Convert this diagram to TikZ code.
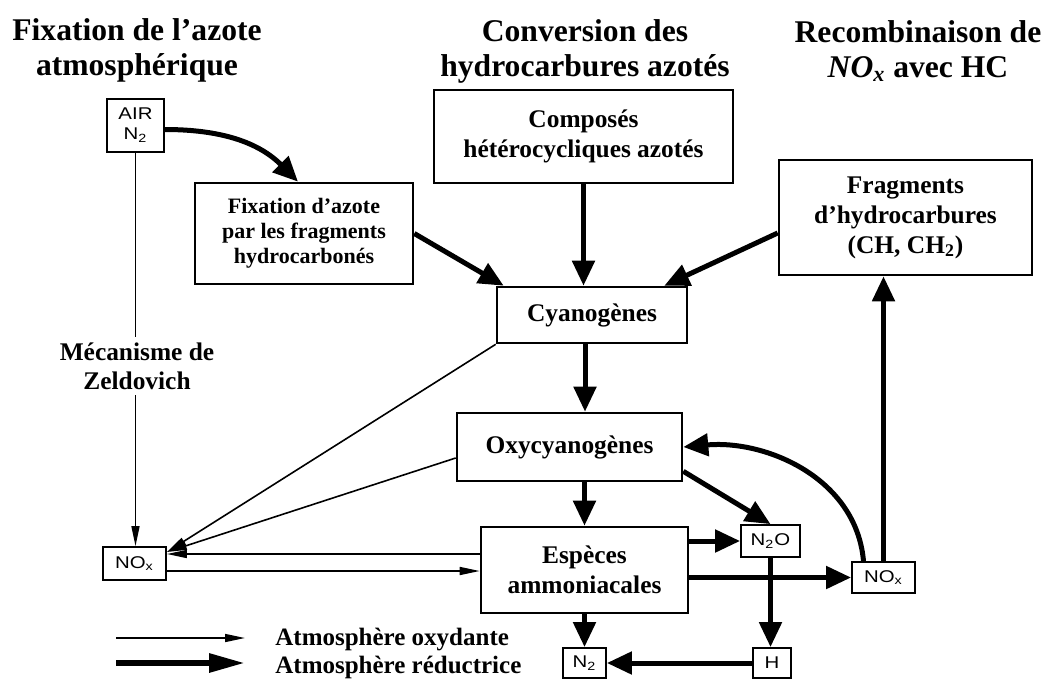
\documentclass[tikz,border=0pt]{standalone}
\usepackage{fontspec}
\setmainfont{Liberation Serif}
\newfontfamily\boxsans[FakeStretch=1.2]{Liberation Sans}
\usetikzlibrary{arrows.meta}

\begin{document}
\begin{tikzpicture}[x=0.5pt,y=0.5pt,
		bigbox/.style={draw,line width=1.3pt,inner sep=0pt,align=center,font=\bfseries\fontsize{12.7}{15}\selectfont},
		smallbox/.style={draw,line width=0.9pt,inner sep=0pt,align=center,font=\boxsans\fontsize{8.5}{10}\selectfont},
		head/.style={align=center,font=\bfseries\fontsize{15.8}{17.5}\selectfont},
		strong/.style={line width=2.5pt,-{Triangle[length=12.5pt,width=11pt]}},
		weak/.style={line width=0.8pt,-{Triangle[length=10pt,width=4pt]}}]
				\useasboundingbox (0,0) rectangle (1044,-680);

				\node[head] (h1) at (137,-50) {Fixation de l’azote\\atmosphérique};
				\node[head] (h2) at (585,-51) {Conversion des\\hydrocarbures azotés};
				\node[head] (h3) at (918,-51) {Recombinaison de\\\textit{NO\textsubscript{x}} avec HC};

				\node[smallbox,minimum width=28.5pt,minimum height=26.5pt] (air) at (135.5,-125.5) {AIR\\N\textsubscript{2}};
				\node[bigbox,minimum width=149.5pt,minimum height=46.5pt] (comp) at (583.5,-136.5) {Composés\\hétérocycliques azotés};
				\node[bigbox,minimum width=109pt,minimum height=50.5pt,font=\bfseries\fontsize{11}{12.5}\selectfont] (fix) at (304,-233.5) {Fixation d’azote\\par les fragments\\hydrocarbonés};
				\node[bigbox,minimum width=126.5pt,minimum height=57.5pt] (frag) at (905.5,-217.5) {Fragments\\d’hydrocarbures\\(CH, CH\textsubscript{2})};
				\node[bigbox,minimum width=95pt,minimum height=28pt] (cyan) at (592,-315) {Cyanogènes};
				\node[bigbox,minimum width=112.5pt,minimum height=34pt] (oxy) at (569.5,-447) {Oxycyanogènes};
				\node[bigbox,minimum width=103.5pt,minimum height=43pt] (esp) at (584.5,-570) {Espèces\\ammoniacales};
				\node[smallbox,minimum width=29.5pt,minimum height=16pt] (ntwoo) at (770.5,-541) {N\textsubscript{2}O};
				\node[smallbox,minimum width=31.5pt,minimum height=15.5pt] (noxr) at (883.5,-577.5) {NO\textsubscript{x}};
				\node[smallbox,minimum width=31.5pt,minimum height=16.5pt] (noxl) at (134.5,-563.5) {NO\textsubscript{x}};
				\node[smallbox,minimum width=21.5pt,minimum height=15pt] (ntwo) at (584.5,-663) {N\textsubscript{2}};
				\node[smallbox,minimum width=19pt,minimum height=15pt] (hh) at (772,-663) {H};

				% atmosphere reductrice
				\draw[strong] ([yshift=-2pt]air.east) to[out=0,in=135] ([xshift=-3pt]fix.north);
				\draw[strong] (comp.south) -- (comp.south |- cyan.north);
				\draw[strong] (fix.east) -- ([xshift=4pt]cyan.north west);
				\draw[strong] ([yshift=-7.75pt]frag.west) -- ([xshift=-12pt]cyan.north east);
				\draw[strong] ([xshift=-3.5pt]cyan.south) -- ([xshift=-3.5pt]cyan.south |- oxy.north);
				\draw[strong] (esp.north |- oxy.south) -- (esp.north);
				\draw[strong] (esp.south) -- (ntwo.north);
				\draw[strong] ([yshift=5.5pt]oxy.south east) -- (ntwoo.north);
				\draw[strong] (esp.east |- ntwoo.west) -- (ntwoo.west);
				\draw[strong] (esp.east |- noxr.west) -- (noxr.west);
				\draw[strong] (ntwoo.south) -- (ntwoo.south |- hh.north);
				\draw[strong] (hh.west) -- (ntwo.east);
				\draw[strong] ([xshift=-10pt]noxr.north) to[out=95,in=5] (oxy.east);
				\draw[strong] (noxr.north) -- (noxr.north |- frag.south);

				% atmosphere oxydante
				\draw[weak] (air.south) -- (air.south |- noxl.north);
				\draw[weak] (cyan.south west) -- ([yshift=5.75pt]noxl.east);
				\draw[weak] ([yshift=-5.5pt]oxy.west) -- ([yshift=5.75pt]noxl.east);
				\draw[weak] ([yshift=8pt]esp.west) -- ([yshift=4.75pt]noxl.east);
				\draw[weak] ([yshift=-3.75pt]noxl.east) -- ([yshift=-3.75pt]noxl.east -| esp.west);

				\node[align=center,fill=white,inner sep=3pt,font=\bfseries\fontsize{12.7}{14.5}\selectfont] (zeld) at (137,-366) {Mécanisme de\\Zeldovich};

				\coordinate (lega) at (116,-638);
				\coordinate (legb) at (245,-638);
				\coordinate (legc) at (116,-663);
				\coordinate (legd) at (245,-663);
				\draw[weak] (lega) -- (legb);
				\draw[line width=3pt,-{Triangle[length=18pt,width=9pt]}] (legc) -- (legd);
				\node[anchor=base west,font=\bfseries\fontsize{12.5}{14}\selectfont,inner sep=0pt] (oxyd) at (275,-645) {Atmosphère oxydante};
				\node[anchor=base west,font=\bfseries\fontsize{12.5}{14}\selectfont,inner sep=0pt] (redu) at (275,-673) {Atmosphère réductrice};
			\end{tikzpicture}
\end{document}
